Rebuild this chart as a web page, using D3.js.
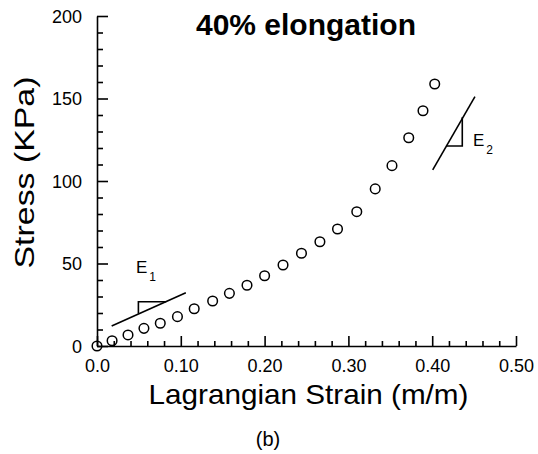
<!DOCTYPE html>
<html><head><meta charset="utf-8">
<script src="https://cdn.jsdelivr.net/npm/d3@7"></script>
<style>
body{margin:0;background:#fff;}
svg{display:block;font-family:"Liberation Sans",Arial,Helvetica,sans-serif;}
</style></head>
<body><svg id="c" width="538" height="454"></svg>
<script>
const strain = [0,0.018,0.037,0.056,0.0755,0.096,0.116,0.138,0.158,0.179,0.2,0.222,0.244,0.266,0.287,0.31,0.332,0.352,0.372,0.389,0.403];
const stress = [0,3.2,6.7,10.7,13.8,17.8,22.6,27.3,31.9,36.8,42.6,49.1,56.2,63.2,70.9,81.4,95.2,109.3,126.2,142.6,158.8];
const xMajor = [0,0.1,0.2,0.3,0.4,0.5];
const xMajorLabels = ["0.0","0.10","0.20","0.30","0.40","0.50"];
const xMinor = [0.02,0.04,0.06,0.08,0.12,0.14,0.16,0.18,0.22,0.24,0.26,0.28,0.32,0.34,0.36,0.38,0.42,0.44,0.46,0.48];
const yMajor = [0,50,100,150,200];
const yMinor = [10,20,30,40,60,70,80,90,110,120,130,140,160,170,180,190];
// slope indicator lines: [x1,y1,x2,y2] in data units
const e1Line = [0.0175,12.1,0.106,32.3];
const e1Tri = [[0.0494,19.7],[0.0494,26.8],[0.0826,26.8]];
const e2Line = [0.4006,106.7,0.451,151.1];
const e2Tri = [[0.4164,121.2],[0.4359,121.2],[0.4359,138.6]];
const title = "40% elongation";
const xLabel = "Lagrangian Strain (m/m)";
const yLabel = "Stress (KPa)";
const caption = "(b)";

const svg = d3.select("#c");
const x = d3.scaleLinear().domain([0,0.5]).range([97,516]);
const y = d3.scaleLinear().domain([0,200]).range([346,16]);

// minor ticks
svg.append("g").attr("transform","translate(0,346)")
  .call(d3.axisBottom(x).tickValues(xMinor).tickSize(-5).tickSizeOuter(0).tickFormat(""))
  .call(g=>g.select(".domain").remove());
svg.append("g").attr("transform","translate(97,0)")
  .call(d3.axisLeft(y).tickValues(yMinor).tickSize(-6).tickSizeOuter(0).tickFormat(""))
  .call(g=>g.select(".domain").remove());
// major
const gx = svg.append("g").attr("transform","translate(0,346)")
  .call(d3.axisBottom(x).tickValues(xMajor).tickSize(-10).tickSizeOuter(0).tickPadding(13)
    .tickFormat((d,i)=>xMajorLabels[i]));
const gy = svg.append("g").attr("transform","translate(97,0)")
  .call(d3.axisLeft(y).tickValues(yMajor).tickSize(-11).tickSizeOuter(0).tickPadding(15)
    .tickFormat(d3.format("d")));
[gx,gy].forEach(g=>{
  g.selectAll("text").attr("font-size",18).attr("fill","#000").attr("font-family",null);
  g.attr("font-family",null).attr("font-size",null);
});
svg.selectAll(".domain, .tick line").attr("stroke","#000").attr("stroke-width",1.6);
gy.selectAll("text").attr("dy","0.36em");

// data points
svg.append("g").selectAll("circle").data(strain).join("circle")
  .attr("cx",(d)=>x(d)).attr("cy",(d,i)=>y(stress[i])).attr("r",4.8)
  .attr("fill","none").attr("stroke","#000").attr("stroke-width",1.5);

// slope indicators
function slope(l,tri){
  svg.append("line").attr("x1",x(l[0])).attr("y1",y(l[1])).attr("x2",x(l[2])).attr("y2",y(l[3]))
    .attr("stroke","#000").attr("stroke-width",1.6);
  svg.append("path").attr("d",d3.line().x(d=>x(d[0])).y(d=>y(d[1]))(tri))
    .attr("fill","none").attr("stroke","#000").attr("stroke-width",1.6);
}
slope(e1Line,e1Tri);
slope(e2Line,e2Tri);
function eLabel(px,py,sub){
  const t = svg.append("text").attr("x",px).attr("y",py).attr("font-size",17).attr("fill","#000");
  t.append("tspan").text("E");
  t.append("tspan").attr("dx",2).attr("dy",8).attr("font-size",12).text(sub);
}
eLabel(136,273,"1");
eLabel(473,146,"2");

// titles
svg.append("text").attr("x",306).attr("y",35).attr("text-anchor","middle")
  .attr("font-size",30).attr("font-weight","bold").text(title);
svg.append("text").attr("transform","translate(308.5,404) scale(1.06,1)").attr("text-anchor","middle")
  .attr("font-size",28).text(xLabel);
svg.append("text").attr("transform","translate(34,172.5) rotate(-90) scale(1.21,1)").attr("text-anchor","middle")
  .attr("font-size",28).text(yLabel);
svg.append("text").attr("x",268).attr("y",446).attr("text-anchor","middle")
  .attr("font-size",20).text(caption);
</script></body></html>
